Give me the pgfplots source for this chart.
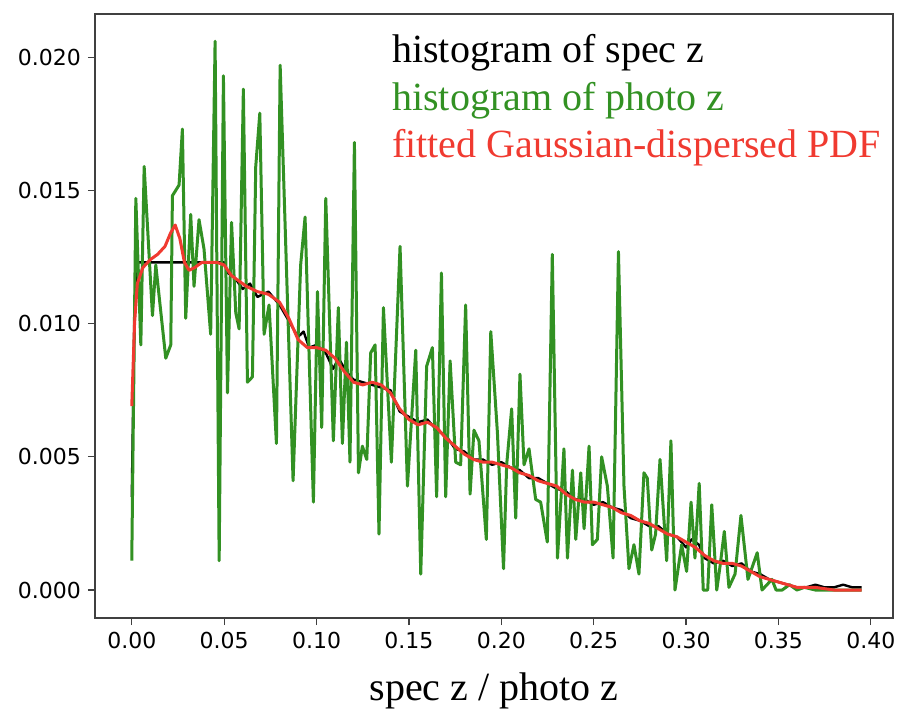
\documentclass[border=0pt]{standalone}
\usepackage{fontspec}
\setmainfont{Liberation Serif}
\newfontfamily\tickfont{DejaVu Sans}
\usepackage{pgfplots}
\pgfplotsset{compat=1.18}
\definecolor{mgreen}{RGB}{50,145,35}
\definecolor{mred}{RGB}{240,58,48}
\begin{document}
\begin{tikzpicture}
\useasboundingbox (-47.5pt,-47.5pt) rectangle (404pt,309pt);
\begin{axis}[
  scale only axis, width=399pt, height=302pt,
  at={(0,0)}, anchor=south west,
  xmin=-0.0199, xmax=0.412, ymin=-0.00105, ymax=0.02162,
  xtick={0,0.05,0.1,0.15,0.2,0.25,0.3,0.35,0.4},
  ytick={0,0.005,0.01,0.015,0.02},
  xtick pos=bottom, ytick pos=left,
  scaled ticks=false,
  tick align=outside, major tick length=3.5pt,
  tick style={black!75, line width=0.6pt},
  axis line style={black!75, line width=0.7pt},
  /pgf/number format/assume math mode=true,
  xticklabel style={font=\tickfont\fontsize{11}{13}\selectfont, /pgf/number format/.cd, fixed, fixed zerofill, precision=2},
  yticklabel style={font=\tickfont\fontsize{11}{13}\selectfont, /pgf/number format/.cd, fixed, fixed zerofill, precision=3},
  xlabel={spec z / photo z},
  xlabel style={font=\fontsize{20}{24}\selectfont, at={(axis description cs:0.5,0)}, anchor=base, yshift=-41pt},
  clip=true,
]
\addplot[black, line width=1.2pt, line join=round] coordinates {
(0.0000,0.0035)(0.0015,0.0105)(0.0025,0.0123)(0.0500,0.0123)(0.0520,0.0119)
(0.0560,0.0117)(0.0600,0.0113)(0.0640,0.0115)(0.0680,0.0110)(0.0740,0.0112)
(0.0800,0.0107)(0.0850,0.0101)(0.0900,0.0095)(0.0930,0.0097)(0.0960,0.0091)
(0.1000,0.0092)(0.1050,0.0089)(0.1090,0.0083)(0.1120,0.0087)(0.1160,0.0082)
(0.1200,0.0079)(0.1250,0.0078)(0.1300,0.0077)(0.1350,0.0076)(0.1400,0.0075)
(0.1450,0.0067)(0.1500,0.0065)(0.1550,0.0063)(0.1600,0.0064)(0.1650,0.0060)
(0.1700,0.0058)(0.1750,0.0053)(0.1800,0.0052)(0.1850,0.0049)(0.1900,0.0049)
(0.1950,0.0047)(0.2000,0.0048)(0.2050,0.0046)(0.2100,0.0045)(0.2150,0.0042)
(0.2200,0.0042)(0.2250,0.0040)(0.2300,0.0038)(0.2350,0.0037)(0.2400,0.0034)
(0.2450,0.0034)(0.2500,0.0032)(0.2550,0.0033)(0.2600,0.0031)(0.2650,0.0030)
(0.2700,0.0027)(0.2750,0.0026)(0.2800,0.0024)(0.2850,0.0024)(0.2900,0.0021)
(0.2950,0.0020)(0.3000,0.0016)(0.3030,0.0019)(0.3070,0.0017)(0.3100,0.0012)
(0.3150,0.0010)(0.3200,0.0011)(0.3250,0.0009)(0.3300,0.0010)(0.3350,0.0007)
(0.3400,0.0006)(0.3450,0.0004)(0.3500,0.0003)(0.3550,0.0002)(0.3600,0.0001)
(0.3650,0.0001)(0.3700,0.0002)(0.3750,0.0001)(0.3800,0.0001)(0.3850,0.0002)
(0.3900,0.0001)(0.3950,0.0001)
};
\addplot[mgreen, line width=1.5pt, line join=round] coordinates {
(0.0000,0.0011)(0.0022,0.0147)(0.0049,0.0092)(0.0067,0.0159)(0.0112,0.0103)
(0.0130,0.0122)(0.0184,0.0087)(0.0211,0.0092)(0.0220,0.0148)(0.0256,0.0152)
(0.0274,0.0173)(0.0292,0.0102)(0.0319,0.0141)(0.0337,0.0114)(0.0364,0.0139)
(0.0391,0.0128)(0.0427,0.0096)(0.0451,0.0206)(0.0473,0.0011)(0.0496,0.0193)
(0.0518,0.0074)(0.0540,0.0138)(0.0563,0.0104)(0.0581,0.0098)(0.0604,0.0188)
(0.0626,0.0078)(0.0653,0.0080)(0.0671,0.0159)(0.0693,0.0179)(0.0716,0.0096)
(0.0743,0.0107)(0.0783,0.0055)(0.0803,0.0197)(0.0873,0.0041)(0.0914,0.0122)
(0.0938,0.0140)(0.0983,0.0033)(0.1005,0.0112)(0.1028,0.0061)(0.1050,0.0147)
(0.1091,0.0056)(0.1118,0.0106)(0.1140,0.0055)(0.1162,0.0093)(0.1181,0.0048)
(0.1205,0.0168)(0.1227,0.0044)(0.1248,0.0054)(0.1272,0.0049)(0.1293,0.0089)
(0.1317,0.0092)(0.1338,0.0021)(0.1362,0.0106)(0.1405,0.0048)(0.1452,0.0129)
(0.1492,0.0039)(0.1537,0.0090)(0.1564,0.0006)(0.1596,0.0084)(0.1627,0.0091)
(0.1650,0.0035)(0.1676,0.0119)(0.1699,0.0035)(0.1723,0.0086)(0.1753,0.0048)
(0.1780,0.0047)(0.1807,0.0107)(0.1831,0.0036)(0.1852,0.0060)(0.1879,0.0056)
(0.1919,0.0019)(0.1943,0.0097)(0.1979,0.0059)(0.2012,0.0008)(0.2029,0.0047)
(0.2056,0.0068)(0.2078,0.0027)(0.2101,0.0081)(0.2123,0.0047)(0.2150,0.0053)
(0.2186,0.0034)(0.2213,0.0033)(0.2249,0.0018)(0.2276,0.0126)(0.2304,0.0012)
(0.2339,0.0053)(0.2358,0.0012)(0.2385,0.0045)(0.2403,0.0019)(0.2430,0.0044)
(0.2448,0.0023)(0.2475,0.0054)(0.2493,0.0017)(0.2520,0.0019)(0.2543,0.0050)
(0.2574,0.0039)(0.2605,0.0012)(0.2634,0.0127)(0.2664,0.0039)(0.2691,0.0008)
(0.2718,0.0017)(0.2745,0.0006)(0.2772,0.0044)(0.2790,0.0042)(0.2814,0.0015)
(0.2835,0.0021)(0.2859,0.0049)(0.2895,0.0011)(0.2918,0.0056)(0.2940,0.0000)
(0.2976,0.0017)(0.3003,0.0007)(0.3027,0.0033)(0.3048,0.0012)(0.3071,0.0040)
(0.3093,0.0000)(0.3117,0.0000)(0.3139,0.0032)(0.3166,0.0000)(0.3184,0.0009)
(0.3207,0.0022)(0.3232,0.0001)(0.3265,0.0006)(0.3297,0.0028)(0.3335,0.0004)
(0.3385,0.0014)(0.3411,0.0000)(0.3465,0.0004)(0.3487,0.0000)(0.3520,0.0000)
(0.3560,0.0002)(0.3600,0.0000)(0.3640,0.0001)(0.3700,0.0000)(0.3800,0.0000)
(0.3950,0.0000)
};
\addplot[mred, line width=1.5pt, line join=round] coordinates {
(0.0000,0.0069)(0.0015,0.0100)(0.0030,0.0115)(0.0060,0.0121)(0.0100,0.0124)
(0.0140,0.0126)(0.0180,0.0129)(0.0210,0.0134)(0.0235,0.0137)(0.0260,0.0132)
(0.0285,0.0123)(0.0310,0.0120)(0.0340,0.0121)(0.0380,0.0123)(0.0420,0.0123)
(0.0460,0.0123)(0.0500,0.0122)(0.0540,0.0118)(0.0580,0.0116)(0.0620,0.0114)
(0.0680,0.0112)(0.0740,0.0111)(0.0800,0.0108)(0.0850,0.0102)(0.0900,0.0094)
(0.0950,0.0091)(0.1000,0.0091)(0.1050,0.0090)(0.1100,0.0087)(0.1150,0.0082)
(0.1200,0.0078)(0.1250,0.0077)(0.1300,0.0078)(0.1350,0.0077)(0.1400,0.0074)
(0.1450,0.0068)(0.1500,0.0064)(0.1550,0.0062)(0.1600,0.0063)(0.1650,0.0061)
(0.1700,0.0057)(0.1750,0.0054)(0.1800,0.0051)(0.1850,0.0049)(0.1900,0.0048)
(0.1950,0.0048)(0.2000,0.0047)(0.2050,0.0046)(0.2100,0.0044)(0.2150,0.0043)
(0.2200,0.0041)(0.2250,0.0040)(0.2300,0.0039)(0.2350,0.0036)(0.2400,0.0034)
(0.2450,0.0033)(0.2500,0.0033)(0.2550,0.0032)(0.2600,0.0031)(0.2650,0.0029)
(0.2700,0.0028)(0.2750,0.0026)(0.2800,0.0025)(0.2850,0.0023)(0.2900,0.0021)
(0.2950,0.0020)(0.3000,0.0018)(0.3050,0.0016)(0.3100,0.0013)(0.3150,0.0011)
(0.3200,0.0010)(0.3250,0.0010)(0.3300,0.0009)(0.3350,0.0007)(0.3400,0.0005)
(0.3450,0.0004)(0.3500,0.0003)(0.3550,0.0002)(0.3600,0.0001)(0.3700,0.0001)
(0.3800,0.0000)(0.3950,0.0000)
};
\node[anchor=base west, inner sep=0pt, font=\fontsize{20}{24}\selectfont, text=black] at (rel axis cs:0.372,0.919) {histogram of spec z};
\node[anchor=base west, inner sep=0pt, font=\fontsize{20}{24}\selectfont, text=mgreen] at (rel axis cs:0.372,0.841) {histogram of photo z};
\node[anchor=base west, inner sep=0pt, font=\fontsize{20}{24}\selectfont, text=mred] at (rel axis cs:0.372,0.762) {fitted Gaussian-dispersed PDF};
\end{axis}
\end{tikzpicture}
\end{document}
